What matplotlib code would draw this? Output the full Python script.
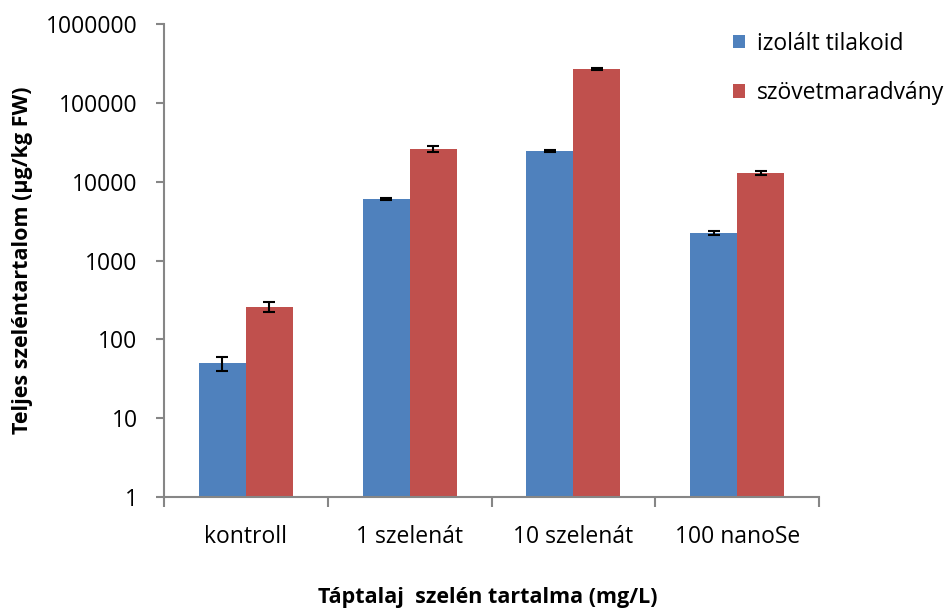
import numpy as np
import matplotlib
matplotlib.use("Agg")
import matplotlib.pyplot as plt
from matplotlib.ticker import FixedLocator, NullFormatter

plt.rcParams['font.family'] = ['Open Sans', 'DejaVu Sans']

categories = ["kontroll", "1 szelenát", "10 szelenát", "100 nanoSe"]
series_names = ["izolált tilakoid", "szövetmaradvány"]
tilakoid = [50, 6000, 24500, 2230]
tilakoid_err = [10, 150, 500, 120]
szovet = [260, 26000, 268000, 12900]
szovet_err = [38, 2200, 5000, 900]
ytick_values = [1, 10, 100, 1000, 10000, 100000, 1000000]
ytick_labels = ["1", "10", "100", "1000", "10000", "100000", "1000000"]

colors = ["#4F81BD", "#C0504D"]
axis_gray = "#868686"

fig = plt.figure(figsize=(9.47, 6.09), dpi=100)
ax = fig.add_axes([164/947, 1 - 497/609, (819-164)/947, (497-24)/609])

x = np.arange(len(categories))
w = 0.287
err_kw = dict(ecolor="black", elinewidth=1.5, capsize=4.3, capthick=1.5)
ax.bar(x - w/2, tilakoid, w, color=colors[0], label=series_names[0],
       yerr=tilakoid_err, error_kw=err_kw, zorder=2)
ax.bar(x + w/2, szovet, w, color=colors[1], label=series_names[1],
       yerr=szovet_err, error_kw=err_kw, zorder=2)

ax.set_yscale("log")
ax.set_ylim(1, 1000000)
ax.set_xlim(-0.5, len(categories) - 0.5)

ax.yaxis.set_major_locator(FixedLocator(ytick_values))
ax.set_yticklabels(ytick_labels)
ax.yaxis.set_minor_locator(FixedLocator([]))
ax.yaxis.set_minor_formatter(NullFormatter())

ax.set_xticks(x)
ax.set_xticklabels(categories)
ax.set_xticks(np.arange(len(categories) + 1) - 0.5, minor=True)
ax.tick_params(axis="x", which="major", length=0, pad=20, labelsize=16.5)
ax.tick_params(axis="x", which="minor", length=7, width=1.5, color=axis_gray, direction="out")
ax.tick_params(axis="y", which="major", length=6, width=1.5, color=axis_gray,
               direction="out", pad=13, labelsize=16.5)

for side in ["top", "right"]:
    ax.spines[side].set_visible(False)
for side in ["left", "bottom"]:
    ax.spines[side].set_color(axis_gray)
    ax.spines[side].set_linewidth(1.5)

ax.set_ylabel("Teljes szeléntartalom (µg/kg FW)", fontsize=15.5, fontweight="bold")
ax.yaxis.set_label_coords((33 - 164) / 655, 0.5)
fig.text(488/947, 1 - 597/609, "Táptalaj  szelén tartalma (mg/L)", fontsize=15.5,
         fontweight="bold", ha="center", va="center")

leg = fig.legend(loc="upper left", bbox_to_anchor=(712/947, 1 - 11/609),
                 frameon=False, fontsize=16.5, handlelength=0.55, handleheight=0.55,
                 handletextpad=0.5, labelspacing=1.1)

fig.savefig("out.png", dpi=100)
